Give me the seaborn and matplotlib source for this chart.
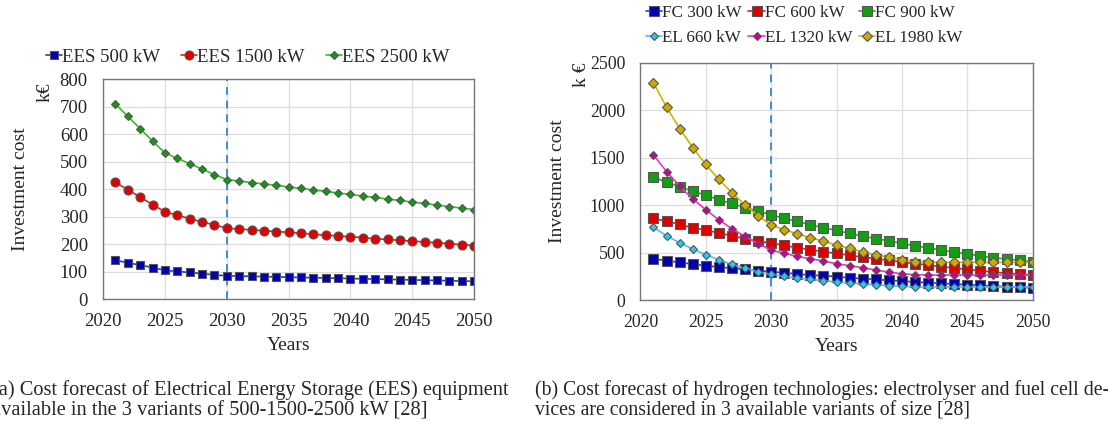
import numpy as np
import pandas as pd
import matplotlib
matplotlib.use("Agg")
import matplotlib.pyplot as plt
import seaborn as sns

years = list(range(2021, 2051))

ees_500 = [142, 132, 124, 115, 105, 101, 97, 93, 88, 85,
           84, 83, 82, 81, 80, 79, 78, 77, 76, 75,
           74, 73, 72, 71, 70, 69, 68, 67, 66, 65]
ees_1500 = [425, 398, 371, 344, 318, 305, 293, 281, 270, 258,
            255, 252, 249, 246, 243, 240, 236, 233, 230, 227,
            224, 220, 217, 214, 211, 208, 205, 202, 198, 195]
ees_2500 = [710, 665, 620, 575, 532, 512, 493, 473, 453, 435,
            430, 424, 419, 414, 408, 403, 397, 392, 386, 381,
            375, 370, 364, 359, 353, 348, 342, 337, 331, 326]

fc_300 = [435, 414, 397, 379, 362, 348, 334, 323, 309, 298,
          288, 274, 263, 256, 246, 235, 225, 218, 207, 200,
          190, 183, 176, 169, 162, 155, 147, 140, 133, 130]
fc_600 = [860, 832, 797, 762, 737, 706, 678, 646, 621, 600,
          576, 551, 530, 509, 492, 471, 453, 435, 418, 400,
          383, 369, 351, 337, 323, 309, 295, 281, 274, 263]
fc_900 = [1296, 1243, 1194, 1148, 1106, 1057, 1018, 973, 938, 899,
          860, 829, 794, 762, 734, 702, 674, 646, 625, 597,
          572, 548, 527, 506, 485, 463, 446, 432, 418, 404]
el_660 = [765, 678, 604, 537, 478, 425, 376, 334, 298, 270,
          249, 232, 218, 204, 190, 179, 169, 158, 151, 144,
          138, 137, 137, 137, 137, 137, 137, 137, 137, 137]
el_1320 = [1527, 1355, 1201, 1067, 952, 846, 751, 671, 593, 527,
           492, 460, 435, 411, 383, 362, 341, 316, 295, 277,
           267, 264, 263, 263, 263, 263, 263, 263, 263, 263]
el_1980 = [2289, 2033, 1808, 1608, 1429, 1271, 1131, 1004, 888, 790,
           741, 699, 657, 621, 579, 544, 509, 474, 453, 425,
           400, 398, 397, 397, 397, 397, 397, 397, 397, 397]

left_series = [
    ("EES 500 kW", ees_500, "#1f3fbf", "#0000b0", "s", 5.5),
    ("EES 1500 kW", ees_1500, "#e02020", "#e00000", "o", 6.5),
    ("EES 2500 kW", ees_2500, "#33bb33", "#119911", "D", 4),
]
right_series = [
    ("FC 300 kW", fc_300, "#2040c0", "#0000b0", "s", 6.5),
    ("FC 600 kW", fc_600, "#e02020", "#e00000", "s", 6.5),
    ("FC 900 kW", fc_900, "#33aa33", "#12a012", "s", 6.5),
    ("EL 660 kW", el_660, "#55bbee", "#22ccee", "D", 4.5),
    ("EL 1320 kW", el_1320, "#ee33cc", "#cc0099", "D", 4.5),
    ("EL 1980 kW", el_1980, "#d4b000", "#ccaa00", "D", 5),
]

sns.set_style("white")
plt.rcParams["font.family"] = ["Liberation Serif", "DejaVu Serif"]

fig = plt.figure(figsize=(11.08, 4.28), dpi=100)
ax1 = fig.add_axes([0.093, 0.301, 0.335, 0.514])
ax2 = fig.add_axes([0.578, 0.299, 0.354, 0.554])


def draw(ax, series, tick_fs):
    for name, vals, lc, mc, mk, ms in series:
        df = pd.DataFrame({"Year": years, "Cost": vals})
        sns.lineplot(data=df, x="Year", y="Cost", ax=ax, color=lc, lw=1.2,
                     marker=mk, markersize=ms, markerfacecolor=mc,
                     markeredgecolor="#555555", markeredgewidth=0.8,
                     label=name)
    ax.axvline(2030, color="#3a8ee0", lw=1.4, ls=(0, (4, 3)), zorder=1)
    ax.set_xlim(2020, 2050)
    ax.set_xticks(range(2020, 2051, 5))
    ax.grid(True, color="#dddddd", lw=0.9)
    ax.set_axisbelow(True)
    for s in ax.spines.values():
        s.set_color("#777777")
        s.set_linewidth(1.0)
    ax.tick_params(axis="x", labelsize=tick_fs, length=0, pad=10)
    ax.tick_params(axis="y", labelsize=tick_fs, length=0, pad=11)
    ax.set_xlabel("Years", fontsize=14, labelpad=5)
    ax.set_ylabel("Investment cost", fontsize=14)


draw(ax1, left_series, 13.5)
ax1.set_ylim(0, 800)
ax1.set_yticks(range(0, 801, 100))
ax1.yaxis.set_label_coords(-0.2, 0.5)
ax1.legend(loc="lower left", bbox_to_anchor=(-0.19, 1.0), ncol=3, frameon=False,
           fontsize=13.5, handlelength=0.85, handletextpad=0.0, columnspacing=1.15,
           borderaxespad=0.3)
fig.text(0.041, 0.785, "k€", rotation=90, fontsize=14, ha="center", va="center")

draw(ax2, right_series, 12.8)
ax2.set_ylim(0, 2500)
ax2.set_yticks(range(0, 2501, 500))
ax2.yaxis.set_label_coords(-0.19, 0.5)
h, l = ax2.get_legend_handles_labels()
order = [0, 3, 1, 4, 2, 5]
ax2.legend([h[i] for i in order], [l[i] for i in order],
           loc="lower left", bbox_to_anchor=(-0.03, 1.0), ncol=3, frameon=False,
           fontsize=12.3, handlelength=0.95, handletextpad=0.0, columnspacing=0.4,
           labelspacing=0.5, borderaxespad=0.6)
fig.text(0.525, 0.825, "k €", rotation=90, fontsize=14, ha="center", va="center")

fig.text(-0.007, 0.088, "(a) Cost forecast of Electrical Energy Storage (EES) equipment",
         fontsize=14.7, ha="left", va="center")
fig.text(-0.007, 0.04, "available in the 3 variants of 500-1500-2500 kW [28]",
         fontsize=14.7, ha="left", va="center")
fig.text(0.483, 0.088, "(b) Cost forecast of hydrogen technologies: electrolyser and fuel cell de-",
         fontsize=14.2, ha="left", va="center")
fig.text(0.483, 0.04, "vices are considered in 3 available variants of size [28]",
         fontsize=14.2, ha="left", va="center")

fig.savefig("out.png", dpi=100)
